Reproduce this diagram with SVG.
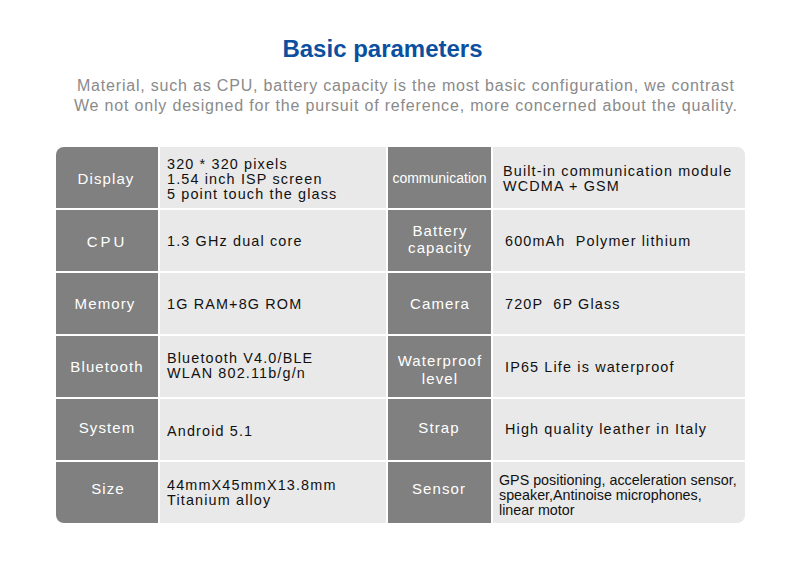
<svg xmlns="http://www.w3.org/2000/svg" width="800" height="566" viewBox="0 0 800 566">
<defs>
<style>
.title{font-family:"Liberation Sans",Arial,sans-serif;font-weight:bold;font-size:24px;fill:#0b4f9f;text-anchor:middle}
.sub{font-family:"Liberation Sans",Arial,sans-serif;font-size:16px;fill:#8a8a8a;text-anchor:middle}
.hd{fill:#808080}
.vl{fill:#e9e9e9}
.ht{font-family:"Liberation Sans",Arial,sans-serif;font-size:15px;fill:#ffffff;text-anchor:middle;letter-spacing:1.1px}
.vt{font-family:"Liberation Sans",Arial,sans-serif;font-size:14.4px;fill:#111111;letter-spacing:1.15px}
.st{font-family:"Liberation Sans",Arial,sans-serif;font-size:14.3px;fill:#111111}
</style>
<clipPath id="tbl"><rect x="56" y="147" width="689" height="376" rx="8" ry="8"/></clipPath>
</defs>
<rect width="800" height="566" fill="#ffffff"/>
<g id="header">
<text class="title" x="382.5" y="57">Basic parameters</text>
<text class="sub" x="405.5" y="91" textLength="657" lengthAdjust="spacing">Material, such as CPU, battery capacity is the most basic configuration, we contrast</text>
<text class="sub" x="405.5" y="111" textLength="663" lengthAdjust="spacing">We not only designed for the pursuit of reference, more concerned about the quality.</text>
</g>
<g id="table" clip-path="url(#tbl)">
<g id="row-display">
<rect class="hd" x="56" y="147" width="102" height="61"/>
<rect class="vl" x="160" y="147" width="226" height="61"/>
<rect class="hd" x="388" y="147" width="103" height="61"/>
<rect class="vl" x="493" y="147" width="252" height="61"/>
<text class="ht" x="106" y="184">Display</text>
<text class="vt" x="167" y="168.5">320 * 320 pixels</text>
<text class="vt" x="167" y="184">1.54 inch ISP screen</text>
<text class="vt" x="167" y="199">5 point touch the glass</text>
<text class="ht" x="439.5" y="183" style="font-size:14px;letter-spacing:0">communication</text>
<text class="vt" x="503" y="176">Built-in communication module</text>
<text class="vt" x="503" y="191">WCDMA + GSM</text>
</g>
<g id="row-cpu">
<rect class="hd" x="56" y="210" width="102" height="61"/>
<rect class="vl" x="160" y="210" width="226" height="61"/>
<rect class="hd" x="388" y="210" width="103" height="61"/>
<rect class="vl" x="493" y="210" width="252" height="61"/>
<text class="ht" x="107" y="246.5" style="letter-spacing:3px">CPU</text>
<text class="vt" x="167" y="246">1.3 GHz dual core</text>
<text class="ht" x="440" y="236">Battery</text>
<text class="ht" x="440" y="253">capacity</text>
<text class="vt" x="505" y="245.5" xml:space="preserve">600mAh  Polymer lithium</text>
</g>
<g id="row-memory">
<rect class="hd" x="56" y="273" width="102" height="61"/>
<rect class="vl" x="160" y="273" width="226" height="61"/>
<rect class="hd" x="388" y="273" width="103" height="61"/>
<rect class="vl" x="493" y="273" width="252" height="61"/>
<text class="ht" x="105" y="309">Memory</text>
<text class="vt" x="167" y="309">1G RAM+8G ROM</text>
<text class="ht" x="440" y="309">Camera</text>
<text class="vt" x="505" y="309" xml:space="preserve">720P  6P Glass</text>
</g>
<g id="row-bluetooth">
<rect class="hd" x="56" y="336" width="102" height="61"/>
<rect class="vl" x="160" y="336" width="226" height="61"/>
<rect class="hd" x="388" y="336" width="103" height="61"/>
<rect class="vl" x="493" y="336" width="252" height="61"/>
<text class="ht" x="107" y="372">Bluetooth</text>
<text class="vt" x="167" y="363">Bluetooth V4.0/BLE</text>
<text class="vt" x="167" y="378">WLAN 802.11b/g/n</text>
<text class="ht" x="440" y="366">Waterproof</text>
<text class="ht" x="440" y="384">level</text>
<text class="vt" x="505" y="371.5">IP65 Life is waterproof</text>
</g>
<g id="row-system">
<rect class="hd" x="56" y="399" width="102" height="61"/>
<rect class="vl" x="160" y="399" width="226" height="61"/>
<rect class="hd" x="388" y="399" width="103" height="61"/>
<rect class="vl" x="493" y="399" width="252" height="61"/>
<text class="ht" x="107" y="433">System</text>
<text class="vt" x="167" y="436">Android 5.1</text>
<text class="ht" x="439" y="433">Strap</text>
<text class="vt" x="505" y="434">High quality leather in Italy</text>
</g>
<g id="row-size">
<rect class="hd" x="56" y="462" width="102" height="61"/>
<rect class="vl" x="160" y="462" width="226" height="61"/>
<rect class="hd" x="388" y="462" width="103" height="61"/>
<rect class="vl" x="493" y="462" width="252" height="61"/>
<text class="ht" x="108" y="494">Size</text>
<text class="vt" x="167" y="490">44mmX45mmX13.8mm</text>
<text class="vt" x="167" y="505">Titanium alloy</text>
<text class="ht" x="439" y="494">Sensor</text>
<text class="st" x="499" y="485">GPS positioning, acceleration sensor,</text>
<text class="st" x="499" y="500">speaker,Antinoise microphones,</text>
<text class="st" x="499" y="514.5">linear motor</text>
</g>
</g>
</svg>
